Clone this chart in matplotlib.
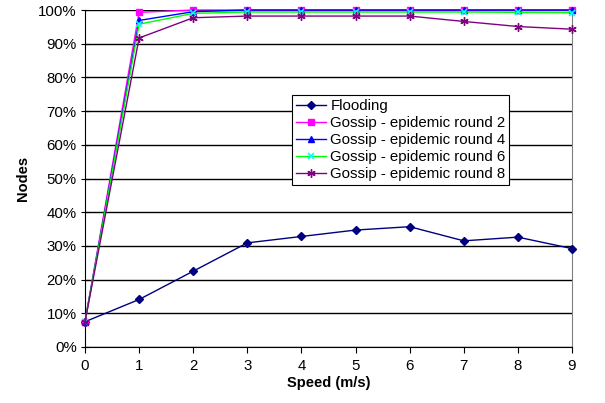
import matplotlib
matplotlib.use("Agg")
import matplotlib.pyplot as plt
from matplotlib.ticker import FuncFormatter, MultipleLocator

plt.rcParams['font.family'] = ['Liberation Sans', 'DejaVu Sans']

speed = [0, 1, 2, 3, 4, 5, 6, 7, 8, 9]
flooding = [7.5, 14.1, 22.5, 30.9, 32.8, 34.7, 35.7, 31.5, 32.6, 29.2]
gossip_r2 = [7.5, 99.3, 100, 100, 100, 100, 100, 100, 100, 100]
gossip_r4 = [7.5, 96.9, 99.5, 100, 100, 100, 100, 100, 100, 100]
gossip_r6 = [7.5, 95.8, 99.0, 99.4, 99.4, 99.4, 99.4, 99.4, 99.3, 99.2]
gossip_r8 = [7.5, 91.7, 97.7, 98.2, 98.2, 98.2, 98.2, 96.6, 95.1, 94.3]

labels = ["Flooding", "Gossip - epidemic round 2", "Gossip - epidemic round 4",
          "Gossip - epidemic round 6", "Gossip - epidemic round 8"]

fig = plt.figure(figsize=(6.05, 4.03), dpi=100)
ax = fig.add_axes([85/605, 1 - 347/403, (572 - 85)/605, (347 - 10)/403])

common = dict(lw=1, zorder=3, clip_on=False)
ax.plot(speed, flooding, color='#000080', marker='D', markersize=4, label=labels[0], **common)
ax.plot(speed, gossip_r2, color='#FF00FF', marker='s', markersize=5, label=labels[1], **common)
ax.plot(speed, gossip_r4, color='#0000FF', marker='^', markersize=5, label=labels[2], **common)
ax.plot(speed, gossip_r6, color='#00FF00', marker='x', markersize=5, mec='#00FFFF', mew=1.2,
        label=labels[3], **common)
ax.plot(speed, gossip_r8, color='#800080', marker=(6, 2, 0), markersize=6, mew=1,
        label=labels[4], **common)

ax.set_xlim(0, 9)
ax.set_ylim(0, 100)
ax.xaxis.set_major_locator(MultipleLocator(1))
ax.yaxis.set_major_locator(MultipleLocator(10))
ax.yaxis.set_major_formatter(FuncFormatter(lambda v, p: f"{int(round(v))}%"))

ax.grid(axis='y', color='black', lw=1)
ax.set_axisbelow(True)
ax.spines['top'].set_visible(False)
ax.spines['right'].set_color('#808080')
ax.spines['left'].set_color('black')
ax.spines['bottom'].set_color('black')
ax.tick_params(axis='y', direction='inout', length=6, labelsize=10.8, pad=3)
ax.tick_params(axis='x', direction='out', length=4, labelsize=10.8, pad=5)

ax.set_xlabel("Speed (m/s)", fontsize=10.5, fontweight='bold', labelpad=2)
ax.set_ylabel("Nodes", fontsize=10.5, fontweight='bold', labelpad=6)

leg = ax.legend(loc='upper left', bbox_to_anchor=((292 - 85)/487, 1 - (95 - 10)/337),
                fontsize=10.8, frameon=True, fancybox=False, edgecolor='black',
                framealpha=1, borderpad=0.25, labelspacing=0.2, handlelength=2,
                handletextpad=0.3, borderaxespad=0)
leg.get_frame().set_linewidth(0.8)

fig.savefig("out.png", dpi=100)
